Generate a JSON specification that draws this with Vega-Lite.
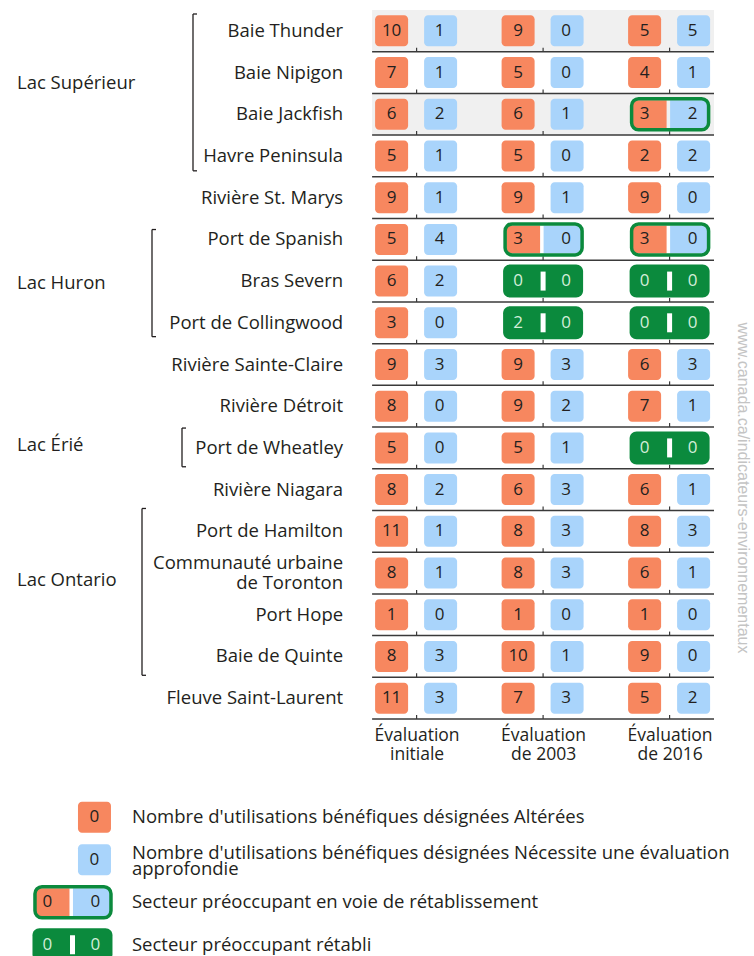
{
  "$schema": "https://vega.github.io/schema/vega-lite/v6.json",
  "padding": {"left": 17, "top": 10, "right": 0, "bottom": 0},
  "background": "white",
  "config": {"view": {"stroke": null}, "font": "Open Sans"},
  "title": {"text": "www.canada.ca/indicateurs-environnementaux", "orient": "right", "anchor": "middle", "font": "Liberation Sans", "fontSize": 16, "fontWeight": "normal", "color": "#c4c4c4", "offset": 6},
  "datasets": {
    "cells": [
      {"station": "Baie Thunder", "evaluation": "Évaluation initiale", "altered": 10, "review": 1, "status": "ouvert"},
      {"station": "Baie Thunder", "evaluation": "Évaluation de 2003", "altered": 9, "review": 0, "status": "ouvert"},
      {"station": "Baie Thunder", "evaluation": "Évaluation de 2016", "altered": 5, "review": 5, "status": "ouvert"},
      {"station": "Baie Nipigon", "evaluation": "Évaluation initiale", "altered": 7, "review": 1, "status": "ouvert"},
      {"station": "Baie Nipigon", "evaluation": "Évaluation de 2003", "altered": 5, "review": 0, "status": "ouvert"},
      {"station": "Baie Nipigon", "evaluation": "Évaluation de 2016", "altered": 4, "review": 1, "status": "ouvert"},
      {"station": "Baie Jackfish", "evaluation": "Évaluation initiale", "altered": 6, "review": 2, "status": "ouvert"},
      {"station": "Baie Jackfish", "evaluation": "Évaluation de 2003", "altered": 6, "review": 1, "status": "ouvert"},
      {"station": "Baie Jackfish", "evaluation": "Évaluation de 2016", "altered": 3, "review": 2, "status": "en voie de rétablissement"},
      {"station": "Havre Peninsula", "evaluation": "Évaluation initiale", "altered": 5, "review": 1, "status": "ouvert"},
      {"station": "Havre Peninsula", "evaluation": "Évaluation de 2003", "altered": 5, "review": 0, "status": "ouvert"},
      {"station": "Havre Peninsula", "evaluation": "Évaluation de 2016", "altered": 2, "review": 2, "status": "ouvert"},
      {"station": "Rivière St. Marys", "evaluation": "Évaluation initiale", "altered": 9, "review": 1, "status": "ouvert"},
      {"station": "Rivière St. Marys", "evaluation": "Évaluation de 2003", "altered": 9, "review": 1, "status": "ouvert"},
      {"station": "Rivière St. Marys", "evaluation": "Évaluation de 2016", "altered": 9, "review": 0, "status": "ouvert"},
      {"station": "Port de Spanish", "evaluation": "Évaluation initiale", "altered": 5, "review": 4, "status": "ouvert"},
      {"station": "Port de Spanish", "evaluation": "Évaluation de 2003", "altered": 3, "review": 0, "status": "en voie de rétablissement"},
      {"station": "Port de Spanish", "evaluation": "Évaluation de 2016", "altered": 3, "review": 0, "status": "en voie de rétablissement"},
      {"station": "Bras Severn", "evaluation": "Évaluation initiale", "altered": 6, "review": 2, "status": "ouvert"},
      {"station": "Bras Severn", "evaluation": "Évaluation de 2003", "altered": 0, "review": 0, "status": "rétabli"},
      {"station": "Bras Severn", "evaluation": "Évaluation de 2016", "altered": 0, "review": 0, "status": "rétabli"},
      {"station": "Port de Collingwood", "evaluation": "Évaluation initiale", "altered": 3, "review": 0, "status": "ouvert"},
      {"station": "Port de Collingwood", "evaluation": "Évaluation de 2003", "altered": 2, "review": 0, "status": "rétabli"},
      {"station": "Port de Collingwood", "evaluation": "Évaluation de 2016", "altered": 0, "review": 0, "status": "rétabli"},
      {"station": "Rivière Sainte-Claire", "evaluation": "Évaluation initiale", "altered": 9, "review": 3, "status": "ouvert"},
      {"station": "Rivière Sainte-Claire", "evaluation": "Évaluation de 2003", "altered": 9, "review": 3, "status": "ouvert"},
      {"station": "Rivière Sainte-Claire", "evaluation": "Évaluation de 2016", "altered": 6, "review": 3, "status": "ouvert"},
      {"station": "Rivière Détroit", "evaluation": "Évaluation initiale", "altered": 8, "review": 0, "status": "ouvert"},
      {"station": "Rivière Détroit", "evaluation": "Évaluation de 2003", "altered": 9, "review": 2, "status": "ouvert"},
      {"station": "Rivière Détroit", "evaluation": "Évaluation de 2016", "altered": 7, "review": 1, "status": "ouvert"},
      {"station": "Port de Wheatley", "evaluation": "Évaluation initiale", "altered": 5, "review": 0, "status": "ouvert"},
      {"station": "Port de Wheatley", "evaluation": "Évaluation de 2003", "altered": 5, "review": 1, "status": "ouvert"},
      {"station": "Port de Wheatley", "evaluation": "Évaluation de 2016", "altered": 0, "review": 0, "status": "rétabli"},
      {"station": "Rivière Niagara", "evaluation": "Évaluation initiale", "altered": 8, "review": 2, "status": "ouvert"},
      {"station": "Rivière Niagara", "evaluation": "Évaluation de 2003", "altered": 6, "review": 3, "status": "ouvert"},
      {"station": "Rivière Niagara", "evaluation": "Évaluation de 2016", "altered": 6, "review": 1, "status": "ouvert"},
      {"station": "Port de Hamilton", "evaluation": "Évaluation initiale", "altered": 11, "review": 1, "status": "ouvert"},
      {"station": "Port de Hamilton", "evaluation": "Évaluation de 2003", "altered": 8, "review": 3, "status": "ouvert"},
      {"station": "Port de Hamilton", "evaluation": "Évaluation de 2016", "altered": 8, "review": 3, "status": "ouvert"},
      {"station": "Communauté urbaine de Toronton", "evaluation": "Évaluation initiale", "altered": 8, "review": 1, "status": "ouvert"},
      {"station": "Communauté urbaine de Toronton", "evaluation": "Évaluation de 2003", "altered": 8, "review": 3, "status": "ouvert"},
      {"station": "Communauté urbaine de Toronton", "evaluation": "Évaluation de 2016", "altered": 6, "review": 1, "status": "ouvert"},
      {"station": "Port Hope", "evaluation": "Évaluation initiale", "altered": 1, "review": 0, "status": "ouvert"},
      {"station": "Port Hope", "evaluation": "Évaluation de 2003", "altered": 1, "review": 0, "status": "ouvert"},
      {"station": "Port Hope", "evaluation": "Évaluation de 2016", "altered": 1, "review": 0, "status": "ouvert"},
      {"station": "Baie de Quinte", "evaluation": "Évaluation initiale", "altered": 8, "review": 3, "status": "ouvert"},
      {"station": "Baie de Quinte", "evaluation": "Évaluation de 2003", "altered": 10, "review": 1, "status": "ouvert"},
      {"station": "Baie de Quinte", "evaluation": "Évaluation de 2016", "altered": 9, "review": 0, "status": "ouvert"},
      {"station": "Fleuve Saint-Laurent", "evaluation": "Évaluation initiale", "altered": 11, "review": 3, "status": "ouvert"},
      {"station": "Fleuve Saint-Laurent", "evaluation": "Évaluation de 2003", "altered": 7, "review": 3, "status": "ouvert"},
      {"station": "Fleuve Saint-Laurent", "evaluation": "Évaluation de 2016", "altered": 5, "review": 2, "status": "ouvert"}
    ],
    "lakes": [
      {"lake": "Lac Supérieur", "first": "Baie Thunder", "last": "Havre Peninsula"},
      {"lake": "Lac Huron", "first": "Port de Spanish", "last": "Port de Collingwood"},
      {"lake": "Lac Érié", "first": "Port de Wheatley", "last": "Port de Wheatley"},
      {"lake": "Lac Ontario", "first": "Port de Hamilton", "last": "Baie de Quinte"}
    ],
    "legend": [
      {"item": "Nombre d'utilisations bénéfiques désignées Altérées", "kind": "altérées", "altered": 0, "review": 0},
      {"item": "Nombre d'utilisations bénéfiques désignées Nécessite une évaluation approfondie", "kind": "évaluation", "altered": 0, "review": 0},
      {"item": "Secteur préoccupant en voie de rétablissement", "kind": "en voie de rétablissement", "altered": 0, "review": 0},
      {"item": "Secteur préoccupant rétabli", "kind": "rétabli", "altered": 0, "review": 0}
    ]
  },
  "spacing": 33,
  "vconcat": [
    {
      "width": 697,
      "height": 709,
      "layer": [
        {
          "data": {"name": "cells"},
          "encoding": {
            "y": {
              "field": "station", "type": "nominal",
              "scale": {"domain": ["Baie Thunder", "Baie Nipigon", "Baie Jackfish", "Havre Peninsula", "Rivière St. Marys", "Port de Spanish", "Bras Severn", "Port de Collingwood", "Rivière Sainte-Claire", "Rivière Détroit", "Port de Wheatley", "Rivière Niagara", "Port de Hamilton", "Communauté urbaine de Toronton", "Port Hope", "Baie de Quinte", "Fleuve Saint-Laurent"], "paddingInner": 0, "paddingOuter": 0},
              "axis": null
            }
          },
          "layer": [
            {
              "encoding": {
                "x": {
                  "field": "evaluation", "type": "nominal",
                  "scale": {"type": "point", "domain": ["Évaluation initiale", "Évaluation de 2003", "Évaluation de 2016"], "range": [399.6, 652.6], "padding": 0},
                  "axis": {"title": null, "domain": false, "ticks": false, "labelAngle": 0, "labelPadding": 7, "labelFontSize": 17.5, "labelColor": "#231f20", "labelLineHeight": 19, "labelExpr": "[slice(datum.label, 0, 10), slice(datum.label, 11)]"}
                }
              },
              "layer": [
                {
                  "transform": [{"filter": "(datum.station === 'Baie Thunder' || datum.station === 'Baie Jackfish') && datum.evaluation === 'Évaluation initiale'"}],
                  "mark": {"type": "rect", "color": "#f0f0f0", "xOffset": -44.5, "x2Offset": 44.4},
                  "encoding": {"x": {"datum": "Évaluation initiale"}, "x2": {"datum": "Évaluation de 2016"}}
                },
                {
                  "transform": [{"filter": "datum.evaluation === 'Évaluation initiale'"}],
                  "mark": {"type": "rule", "color": "#3a3a3a", "strokeWidth": 1.5, "xOffset": -44.5, "x2Offset": 44.4},
                  "encoding": {"x": {"datum": "Évaluation initiale"}, "x2": {"datum": "Évaluation de 2016"}, "y": {"field": "station", "type": "nominal", "bandPosition": 1, "axis": null}}
                },
                {
                  "transform": [{"filter": "datum.evaluation === 'Évaluation initiale' && datum.station !== 'Communauté urbaine de Toronton'"}],
                  "mark": {"type": "text", "align": "right", "baseline": "middle", "fontSize": 18.5, "color": "#231f20", "dx": -73.5},
                  "encoding": {"x": {"datum": "Évaluation initiale"}, "text": {"field": "station"}}
                },
                {
                  "transform": [
                    {"filter": "datum.evaluation === 'Évaluation initiale' && datum.station === 'Communauté urbaine de Toronton'"},
                    {"calculate": "['Communauté urbaine', 'de Toronton']", "as": "label"}
                  ],
                  "mark": {"type": "text", "align": "right", "baseline": "middle", "fontSize": 18.5, "lineHeight": 20, "color": "#231f20", "dx": -73.5, "dy": -10},
                  "encoding": {"x": {"datum": "Évaluation initiale"}, "text": {"field": "label"}}
                },
                {
                  "mark": {"type": "rule", "color": "#3a3a3a", "strokeWidth": 1.2, "y2Offset": -4},
                  "encoding": {
                    "y": {"field": "station", "type": "nominal", "bandPosition": 1, "axis": null},
                    "y2": {"field": "station", "bandPosition": 1}
                  }
                },
                {
                  "transform": [{"filter": "datum.status === 'ouvert'"}],
                  "mark": {"type": "rect", "width": 33, "height": 31, "cornerRadius": 4, "xOffset": -25, "color": "#f7875f"}
                },
                {
                  "transform": [{"filter": "datum.status === 'ouvert'"}],
                  "mark": {"type": "rect", "width": 33, "height": 31, "cornerRadius": 4, "xOffset": 24, "color": "#a9d4fb"}
                },
                {
                  "transform": [{"filter": "datum.status === 'en voie de rétablissement'"}],
                  "mark": {"type": "rect", "width": 34, "height": 28, "xOffset": -20, "color": "#f7875f"}
                },
                {
                  "transform": [{"filter": "datum.status === 'en voie de rétablissement'"}],
                  "mark": {"type": "rect", "width": 38, "height": 28, "xOffset": 19.5, "color": "#a9d4fb"}
                },
                {
                  "transform": [{"filter": "datum.status === 'en voie de rétablissement'"}],
                  "mark": {"type": "rect", "width": 77, "height": 31, "xOffset": 0.5, "cornerRadius": 7, "fill": "transparent", "stroke": "#0b8a3d", "strokeWidth": 3.5}
                },
                {
                  "transform": [{"filter": "datum.status === 'rétabli'"}],
                  "mark": {"type": "rect", "width": 80, "height": 33, "cornerRadius": 7, "color": "#0b8a3d"}
                },
                {
                  "transform": [{"filter": "datum.status === 'rétabli'"}],
                  "mark": {"type": "rect", "width": 5, "height": 19, "color": "#ffffff"}
                },
                {
                  "mark": {"type": "text", "dx": -25, "fontSize": 17},
                  "encoding": {
                    "text": {"field": "altered", "type": "quantitative"},
                    "color": {"condition": {"test": "datum.status === 'rétabli'", "value": "#d3eed9"}, "value": "#231f20"}
                  }
                },
                {
                  "mark": {"type": "text", "dx": 23, "fontSize": 17},
                  "encoding": {
                    "text": {"field": "review", "type": "quantitative"},
                    "color": {"condition": {"test": "datum.status === 'rétabli'", "value": "#d3eed9"}, "value": "#231f20"}
                  }
                }
              ]
            }
          ]
        },
        {
          "data": {"name": "lakes"},
          "encoding": {
            "y": {
              "field": "first", "type": "nominal", "bandPosition": 0,
              "scale": {"domain": ["Baie Thunder", "Baie Nipigon", "Baie Jackfish", "Havre Peninsula", "Rivière St. Marys", "Port de Spanish", "Bras Severn", "Port de Collingwood", "Rivière Sainte-Claire", "Rivière Détroit", "Port de Wheatley", "Rivière Niagara", "Port de Hamilton", "Communauté urbaine de Toronton", "Port Hope", "Baie de Quinte", "Fleuve Saint-Laurent"], "paddingInner": 0, "paddingOuter": 0},
              "axis": null
            }
          },
          "layer": [
            {
              "transform": [{"filter": "datum.lake === 'Lac Supérieur'"}],
              "layer": [
                {"mark": {"type": "text", "align": "left", "baseline": "middle", "fontSize": 18.5, "color": "#231f20", "dy": 73}, "encoding": {"x": {"value": 0}, "text": {"field": "lake"}}},
                {"mark": {"type": "rule", "color": "#231f20", "strokeWidth": 1.3, "yOffset": 4, "y2Offset": -6}, "encoding": {"x": {"value": 176}, "y2": {"field": "last", "bandPosition": 1}}},
                {"mark": {"type": "rule", "color": "#231f20", "strokeWidth": 1.3, "yOffset": 4}, "encoding": {"x": {"value": 176}, "x2": {"value": 180}}},
                {"mark": {"type": "rule", "color": "#231f20", "strokeWidth": 1.3, "yOffset": -6}, "encoding": {"x": {"value": 176}, "x2": {"value": 180}, "y": {"field": "last", "type": "nominal", "bandPosition": 1, "axis": null}}}
              ]
            },
            {
              "transform": [{"filter": "datum.lake === 'Lac Huron'"}],
              "layer": [
                {"mark": {"type": "text", "align": "left", "baseline": "middle", "fontSize": 18.5, "color": "#231f20", "dy": 64}, "encoding": {"x": {"value": 0}, "text": {"field": "lake"}}},
                {"mark": {"type": "rule", "color": "#231f20", "strokeWidth": 1.3, "yOffset": 11, "y2Offset": -7}, "encoding": {"x": {"value": 135}, "y2": {"field": "last", "bandPosition": 1}}},
                {"mark": {"type": "rule", "color": "#231f20", "strokeWidth": 1.3, "yOffset": 11}, "encoding": {"x": {"value": 135}, "x2": {"value": 139}}},
                {"mark": {"type": "rule", "color": "#231f20", "strokeWidth": 1.3, "yOffset": -7}, "encoding": {"x": {"value": 135}, "x2": {"value": 139}, "y": {"field": "last", "type": "nominal", "bandPosition": 1, "axis": null}}}
              ]
            },
            {
              "transform": [{"filter": "datum.lake === 'Lac Érié'"}],
              "layer": [
                {"mark": {"type": "text", "align": "left", "baseline": "middle", "fontSize": 18.5, "color": "#231f20", "dy": 18}, "encoding": {"x": {"value": 0}, "text": {"field": "lake"}}},
                {"mark": {"type": "rule", "color": "#231f20", "strokeWidth": 1.3, "yOffset": 1, "y2Offset": -2}, "encoding": {"x": {"value": 165}, "y2": {"field": "last", "bandPosition": 1}}},
                {"mark": {"type": "rule", "color": "#231f20", "strokeWidth": 1.3, "yOffset": 1}, "encoding": {"x": {"value": 165}, "x2": {"value": 169}}},
                {"mark": {"type": "rule", "color": "#231f20", "strokeWidth": 1.3, "yOffset": -2}, "encoding": {"x": {"value": 165}, "x2": {"value": 169}, "y": {"field": "last", "type": "nominal", "bandPosition": 1, "axis": null}}}
              ]
            },
            {
              "transform": [{"filter": "datum.lake === 'Lac Ontario'"}],
              "layer": [
                {"mark": {"type": "text", "align": "left", "baseline": "middle", "fontSize": 18.5, "color": "#231f20", "dy": 70}, "encoding": {"x": {"value": 0}, "text": {"field": "lake"}}},
                {"mark": {"type": "rule", "color": "#231f20", "strokeWidth": 1.3, "yOffset": -2, "y2Offset": -2}, "encoding": {"x": {"value": 125}, "y2": {"field": "last", "bandPosition": 1}}},
                {"mark": {"type": "rule", "color": "#231f20", "strokeWidth": 1.3, "yOffset": -2}, "encoding": {"x": {"value": 125}, "x2": {"value": 129}}},
                {"mark": {"type": "rule", "color": "#231f20", "strokeWidth": 1.3, "yOffset": -2}, "encoding": {"x": {"value": 125}, "x2": {"value": 129}, "y": {"field": "last", "type": "nominal", "bandPosition": 1, "axis": null}}}
              ]
            }
          ]
        }
      ]
    },
    {
      "width": 95,
      "height": 170,
      "data": {"name": "legend"},
      "encoding": {
        "x": {"datum": "légende", "type": "nominal", "scale": {"type": "point", "align": 0.584}, "axis": null},
        "y": {
          "field": "item", "type": "nominal",
          "scale": {"domain": ["Nombre d'utilisations bénéfiques désignées Altérées", "Nombre d'utilisations bénéfiques désignées Nécessite une évaluation approfondie", "Secteur préoccupant en voie de rétablissement", "Secteur préoccupant rétabli"], "paddingInner": 0, "paddingOuter": 0},
          "axis": null
        }
      },
      "layer": [
        {
          "transform": [{"filter": "datum.kind === 'altérées'"}],
          "mark": {"type": "rect", "width": 33, "height": 31, "cornerRadius": 4, "xOffset": 22, "color": "#f7875f"}
        },
        {
          "transform": [{"filter": "datum.kind === 'évaluation'"}],
          "mark": {"type": "rect", "width": 33, "height": 31, "cornerRadius": 4, "xOffset": 22, "color": "#a9d4fb"}
        },
        {
          "transform": [{"filter": "datum.kind === 'altérées'"}],
          "mark": {"type": "text", "dx": 22, "fontSize": 17, "color": "#231f20"},
          "encoding": {"text": {"field": "altered", "type": "quantitative"}}
        },
        {
          "transform": [{"filter": "datum.kind === 'évaluation'"}],
          "mark": {"type": "text", "dx": 22, "fontSize": 17, "color": "#231f20"},
          "encoding": {"text": {"field": "review", "type": "quantitative"}}
        },
        {
          "transform": [{"filter": "datum.kind === 'en voie de rétablissement'"}],
          "mark": {"type": "rect", "width": 34, "height": 28, "xOffset": -20, "color": "#f7875f"}
        },
        {
          "transform": [{"filter": "datum.kind === 'en voie de rétablissement'"}],
          "mark": {"type": "rect", "width": 38, "height": 28, "xOffset": 19.5, "color": "#a9d4fb"}
        },
        {
          "transform": [{"filter": "datum.kind === 'en voie de rétablissement'"}],
          "mark": {"type": "rect", "width": 76, "height": 31, "xOffset": 0.5, "cornerRadius": 7, "fill": "transparent", "stroke": "#0b8a3d", "strokeWidth": 3.5}
        },
        {
          "transform": [{"filter": "datum.kind === 'rétabli'"}],
          "mark": {"type": "rect", "width": 80, "height": 33, "cornerRadius": 7, "color": "#0b8a3d"}
        },
        {
          "transform": [{"filter": "datum.kind === 'rétabli'"}],
          "mark": {"type": "rect", "width": 5, "height": 19, "color": "#ffffff"}
        },
        {
          "transform": [{"filter": "datum.kind === 'en voie de rétablissement' || datum.kind === 'rétabli'"}],
          "mark": {"type": "text", "dx": -25, "fontSize": 17},
          "encoding": {
            "text": {"field": "altered", "type": "quantitative"},
            "color": {"condition": {"test": "datum.kind === 'rétabli'", "value": "#d3eed9"}, "value": "#231f20"}
          }
        },
        {
          "transform": [{"filter": "datum.kind === 'en voie de rétablissement' || datum.kind === 'rétabli'"}],
          "mark": {"type": "text", "dx": 23, "fontSize": 17},
          "encoding": {
            "text": {"field": "review", "type": "quantitative"},
            "color": {"condition": {"test": "datum.kind === 'rétabli'", "value": "#d3eed9"}, "value": "#231f20"}
          }
        },
        {
          "transform": [{"filter": "datum.kind !== 'évaluation'"}],
          "mark": {"type": "text", "align": "left", "baseline": "middle", "dx": 59.5, "fontSize": 18.5, "color": "#231f20"},
          "encoding": {"text": {"field": "item"}}
        },
        {
          "transform": [
            {"filter": "datum.kind === 'évaluation'"},
            {"calculate": "[replace(datum.item, ' approfondie', ''), 'approfondie']", "as": "label"}
          ],
          "mark": {"type": "text", "align": "left", "baseline": "middle", "dx": 59.5, "dy": -7, "lineHeight": 16, "fontSize": 18.5, "color": "#231f20"},
          "encoding": {"text": {"field": "label"}}
        }
      ]
    }
  ]
}
